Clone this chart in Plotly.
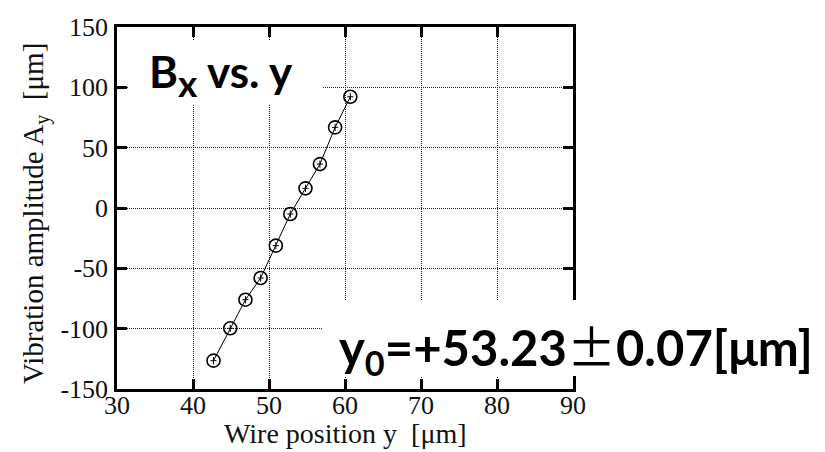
import plotly.graph_objects as go

# Data
wire_pos = [42.7, 44.9, 46.9, 48.9, 50.9, 52.8, 54.8, 56.7, 58.7, 60.7]
amplitude = [-126.5, -99.7, -76.0, -58.0, -31.2, -5.0, 16.3, 36.4, 66.8, 92.2]
amp_err = [3, 3, 3, 3, 3, 3, 3, 3, 3, 3]
pos_err = [0.4, 0.4, 0.4, 0.4, 0.4, 0.4, 0.4, 0.4, 0.4, 0.4]

x_ticks = [30, 40, 50, 60, 70, 80, 90]
x_ticklabels = ["30", "40", "50", "60", "70", "80", "90"]
y_ticks = [-150, -100, -50, 0, 50, 100, 150]
y_ticklabels = ["-150", "-100", "-50", "0", "50", "100", "150"]

x_title = "Wire position y\u00a0\u00a0[μm]"
y_title = "Vibration amplitude A<sub>y</sub>\u00a0\u00a0[μm]"
title_text = "B<sub><span style='font-size:37px'>x</span></sub> vs. y"
result_text = ("y<sub>0</sub>=+53.23"
               "<span style=\"font-family:'Noto Sans CJK JP';font-weight:normal\">±</span>"
               "0.07[μm]")

fig = go.Figure()
fig.add_trace(go.Scatter(
    x=wire_pos, y=amplitude, mode="lines+markers",
    line=dict(color="black", width=1),
    marker=dict(symbol="circle-open", size=13, color="black", line=dict(width=1.6, color="black")),
    error_y=dict(type="data", array=amp_err, color="black", thickness=1, width=0),
    error_x=dict(type="data", array=pos_err, color="black", thickness=1, width=0),
    showlegend=False,
))

serif = "Liberation Serif, Times New Roman, serif"
axis_common = dict(
    showline=True, linecolor="black", linewidth=2.5, mirror="ticks",
    ticks="inside", ticklen=10, tickwidth=2.5, tickcolor="black",
    showgrid=True, gridcolor="#222", gridwidth=1, griddash="1px,1px",
    zeroline=False,
    tickfont=dict(family=serif, size=26, color="#111"),
)

fig.update_xaxes(range=[30, 90], tickvals=x_ticks, ticktext=x_ticklabels,
                 ticklabelstandoff=-9, **axis_common)
fig.update_yaxes(range=[-150, 150], tickvals=y_ticks, ticktext=y_ticklabels,
                 ticklabelstandoff=1, **axis_common)

# White boxes hiding the grid behind the labels
fig.add_shape(type="rect", xref="paper", yref="paper", x0=0.024, x1=0.45, y0=0.785, y1=0.964,
              fillcolor="white", line=dict(width=0), layer="above")
fig.add_shape(type="rect", xref="paper", yref="paper", x0=0.45, x1=1.6, y0=0.036, y1=0.246,
              fillcolor="white", line=dict(width=0), layer="above")

fig.add_annotation(xref="paper", yref="paper", x=0.228, y=0.868, text=title_text, showarrow=False,
                   xanchor="center", yanchor="middle",
                   font=dict(family="Lato, Open Sans, sans-serif", size=44, color="black", weight="bold"))
fig.add_annotation(xref="paper", yref="paper", x=1.007, y=0.118, text=result_text, showarrow=False,
                   xanchor="center", yanchor="middle",
                   font=dict(family="Lato, Open Sans, sans-serif", size=49, color="black", weight="bold"))

# Axis titles
fig.add_annotation(xref="paper", yref="paper", x=0.5, y=-0.122, text=x_title, showarrow=False,
                   xanchor="center", yanchor="middle",
                   font=dict(family=serif, size=28, color="#111"))
fig.add_annotation(xref="paper", yref="paper", x=-0.18, y=0.486, text=y_title, showarrow=False,
                   xanchor="center", yanchor="middle", textangle=-90,
                   font=dict(family=serif, size=29, color="#111"))

fig.update_layout(
    width=825, height=452,
    margin=dict(l=117, r=252, t=27, b=63, autoexpand=False),
    paper_bgcolor="white", plot_bgcolor="white",
)

fig.write_html("out.html", config={"displayModeBar": False},
               post_script="document.body.style.margin='0px';")
